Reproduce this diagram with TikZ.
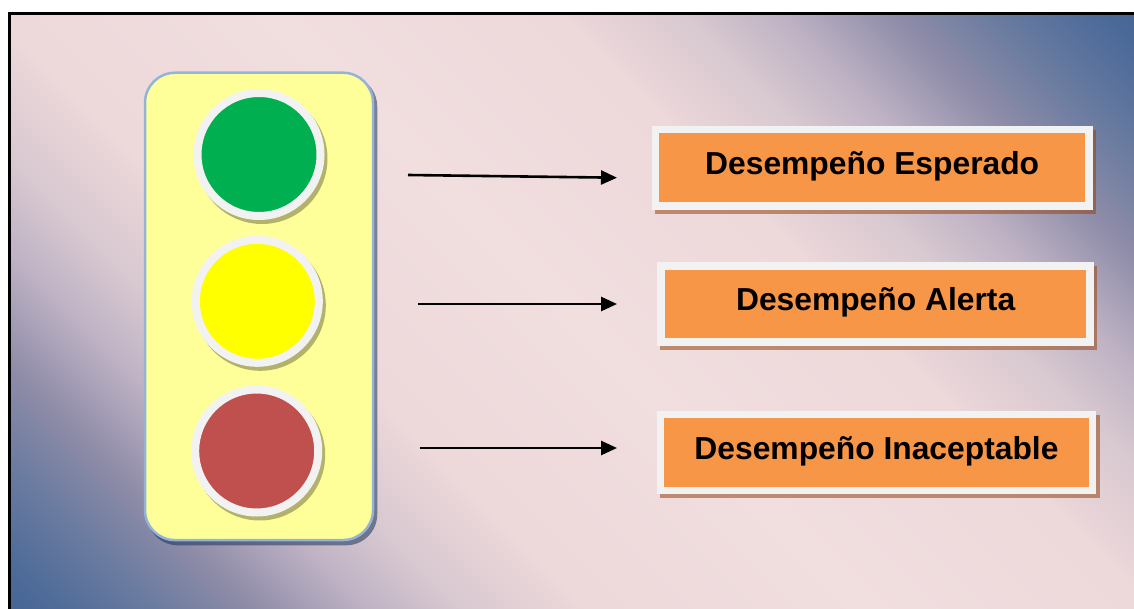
\documentclass[tikz,border=0pt]{standalone}
\usepackage{fontspec}
\setmainfont{Liberation Sans}
\usetikzlibrary{arrows.meta}

\definecolor{bgblue}{HTML}{3C5F92}
\definecolor{bgdeep}{HTML}{4E6B99}
\definecolor{bgsteel}{HTML}{6A7BA0}
\definecolor{bgmauve}{HTML}{8E8CA8}
\definecolor{bglilac}{HTML}{BEB2C4}
\definecolor{bgrose}{HTML}{D8C8D0}
\definecolor{bgpink}{HTML}{EDD8DA}
\definecolor{bgcore}{HTML}{F1DEDF}
\definecolor{ring}{HTML}{F2F2F2}
\definecolor{housingfill}{HTML}{FFFF99}
\definecolor{housingedge}{HTML}{95B3D7}
\definecolor{lampgreen}{HTML}{00B050}
\definecolor{lampyellow}{HTML}{FFFF00}
\definecolor{lampred}{HTML}{C0504D}
\definecolor{boxorange}{HTML}{F79646}

% blue - pink - blue band; used on a square so that it lies at 45 degrees
\pgfdeclarehorizontalshading{horizonband}{100bp}{%
  color(0bp)=(bgblue); color(25bp)=(bgblue); color(27.7bp)=(bgdeep);
  color(30.4bp)=(bgsteel); color(33.1bp)=(bgmauve); color(36.2bp)=(bglilac);
  color(38.8bp)=(bgrose); color(42.3bp)=(bgpink); color(50bp)=(bgcore);
  color(57.7bp)=(bgpink); color(61.2bp)=(bgrose); color(63.8bp)=(bglilac);
  color(66.9bp)=(bgmauve); color(69.6bp)=(bgsteel); color(72.3bp)=(bgdeep);
  color(75bp)=(bgblue); color(100bp)=(bgblue)}

\begin{document}
\begin{tikzpicture}[x=1pt,y=-1pt,
  housing/.style={rectangle,rounded corners=30pt,fill=housingfill,draw=housingedge,line width=2.5pt,inner sep=0pt},
  housingshadow/.style={rectangle,rounded corners=31pt,fill={rgb,255:red,30;green,50;blue,90},fill opacity=0.55,inner sep=0pt},
  lampshadow/.style={circle,inner sep=0pt,minimum size=131pt,fill=black,fill opacity=0.3},
  lamp/.style={circle,inner sep=0pt,minimum size=123pt,draw=ring,line width=8pt},
  labelbox/.style={rectangle,draw=ring,line width=7.5pt,fill=boxorange,inner sep=0pt,
    font=\fontsize{31.8}{36}\selectfont\bfseries,text height=22pt,text depth=8pt},
  boxshadow/.style={rectangle,inner sep=0pt,fill={rgb,255:red,150;green,70;blue,20},fill opacity=0.55},
  pointer/.style={line width=2.6pt,-{Triangle[length=16pt,width=14pt]}}
]
\useasboundingbox (0,0) rectangle (1134,609);
\fill[white] (0,0) rectangle (1134,609);

% framed, shaded backdrop
\begin{scope}
  \clip (9,13.5) rectangle (1134,609);
  \shade[shading=horizonband,shading angle=45] (-78,-339) rectangle (1222,961);
\end{scope}
\begin{scope}
  \clip (0,0) rectangle (1134,609);
  \draw[line width=3pt] (9,620) -- (9,13.5) -- (1145,13.5);
\end{scope}

% traffic light housing
\node[housingshadow,minimum width=230.5pt,minimum height=469.8pt] (hshadow) at (262,310.4) {};
\node[housing,minimum width=228pt,minimum height=467.3pt] (housing) at (259,306.4) {};

% lamps
\node[lampshadow] (gshadow) at (262,158.5) {};
\node[lampshadow] (yshadow) at (260.3,305.3) {};
\node[lampshadow] (rshadow) at (259.7,455) {};
\node[lamp,fill=lampgreen]  (green)  at (259,154.5) {};
\node[lamp,fill=lampyellow] (yellow) at (257.3,301.3) {};
\node[lamp,fill=lampred]    (red)    at (256.7,451) {};

% label boxes
\node[boxshadow,minimum width=441pt,minimum height=84pt]   (s1) at (875.2,172) {};
\node[boxshadow,minimum width=436.7pt,minimum height=83.4pt] (s2) at (878.65,308) {};
\node[boxshadow,minimum width=439.4pt,minimum height=83.3pt] (s3) at (880,456.35) {};
\node[labelbox,minimum width=433.5pt,minimum height=76.5pt] (b1) at (872.2,168) {Desempeño Esperado};
\node[labelbox,minimum width=429pt,minimum height=75.9pt]   (b2) at (875.65,304) {Desempeño Alerta};
\node[labelbox,minimum width=431.9pt,minimum height=75.8pt] (b3) at (876.5,452.35) {Desempeño Inaceptable};

% pointers
\coordinate (p1) at (408,175);
\coordinate (q1) at (617,177.7);
\coordinate (p2) at (418,304);
\coordinate (q2) at (617,304);
\coordinate (p3) at (420,448);
\coordinate (q3) at (617,448);
\draw[pointer] (p1) -- (q1);
\draw[pointer] (p2) -- (q2);
\draw[pointer] (p3) -- (q3);
\end{tikzpicture}
\end{document}
